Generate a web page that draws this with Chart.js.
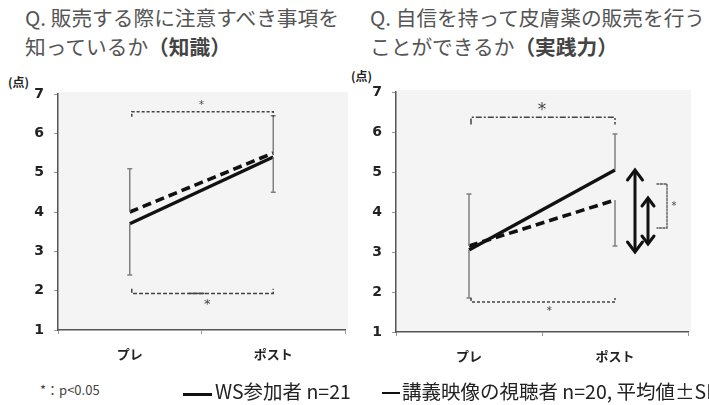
<!DOCTYPE html>
<html>
<head>
<meta charset="utf-8">
<script src="https://cdn.jsdelivr.net/npm/chart.js@4.4.0/dist/chart.umd.min.js"></script>
<style>
body { margin: 0; width: 709px; height: 405px; background: #fff; position: relative; overflow: hidden; font-family: "Noto Sans CJK JP", sans-serif; }
.t { position: absolute; white-space: nowrap; line-height: 1; }
.title { color: #555; font-size: 20.7px; }
.title b { color: #444; }
.unit { font-size: 12px; font-weight: bold; color: #222; }
.leg { color: #222; font-size: 19.5px; }
.bar { position: absolute; background: #111; }
canvas { position: absolute; }
</style>
</head>
<body>
<div class="t title" style="left:25px;top:7px">Q. 販売する際に注意すべき事項を</div>
<div class="t title" style="left:25px;top:36px">知っているか<b>（知識）</b></div>
<div class="t title" style="left:370px;top:7px">Q. 自信を持って皮膚薬の販売を行う</div>
<div class="t title" style="left:370px;top:36px">ことができるか<b>（実践力）</b></div>

<div class="t unit" style="left:8px;top:76px">(点)</div>
<div class="t unit" style="left:351px;top:70px">(点)</div>

<canvas id="chartKnowledge" width="355" height="320" style="left:0;top:60px"></canvas>
<canvas id="chartPractice" width="354" height="320" style="left:355px;top:60px"></canvas>

<div class="t" style="left:40px;top:383px;font-size:13px;color:#444">*：p&lt;0.05</div>
<div class="bar" style="left:183px;top:393px;width:29px;height:3px"></div>
<div class="t leg" style="left:215px;top:381px">WS参加者 n=21</div>
<div class="bar" style="left:382px;top:392px;width:18px;height:2px"></div>
<div class="t leg" style="left:402px;top:381px">講義映像の視聴者 n=20, 平均値±SD</div>

<script>
// 共通
const categories = ['プレ', 'ポスト'];
const yTicks = [1, 2, 3, 4, 5, 6, 7];

// 知識 (左)
const wsKnowledge = [3.7, 5.4];
const lecKnowledge = [4.0, 5.5];
const wsKnowledgeSD = [1.3, 0.9];
const lecKnowledgeSD = [1.1, 0.95];

// 実践力 (右)
const wsPractice = [3.05, 5.05];
const lecPractice = [3.15, 4.3];
const wsPracticeSD = [1.2, 0.9];
const lecPracticeSD = [1.3, 1.15];

// 有意差の括弧 (y は点数)
const bracketsKnowledge = [
    { y: 6.55, end: -0.13, dash: [3, 2], star: { x: 0.5, y: 6.75, size: 10 } },
    { y: 1.93, end: 0.12, dash: [4, 2], mid: true, star: { x: 0.54, y: 1.72, size: 13 } }
];
const bracketsPractice = [
    { y: 6.37, end: -0.18, dash: [6, 2, 2, 2], star: { x: 0.5, y: 6.62, size: 17 } },
    { y: 1.75, end: 0.1, dash: [3, 2], star: { x: 0.55, y: 1.57, size: 11 } }
];

function drawStar(ctx, x, y, size) {
    ctx.save();
    ctx.fillStyle = '#444';
    ctx.font = size + 'px "DejaVu Sans"';
    ctx.textAlign = 'center';
    ctx.textBaseline = 'middle';
    ctx.fillText('*', x, y + size * 0.2);
    ctx.restore();
}

function drawArrow(ctx, x, yA, yB, head) {
    const top = Math.min(yA, yB), bottom = Math.max(yA, yB);
    ctx.beginPath();
    ctx.moveTo(x, top + 2);
    ctx.lineTo(x, bottom - 2);
    ctx.stroke();
    ctx.beginPath();
    ctx.moveTo(x - head * 0.75, top + head);
    ctx.lineTo(x, top);
    ctx.lineTo(x + head * 0.75, top + head);
    ctx.stroke();
    ctx.beginPath();
    ctx.moveTo(x - head * 0.75, bottom - head);
    ctx.lineTo(x, bottom);
    ctx.lineTo(x + head * 0.75, bottom - head);
    ctx.stroke();
}

const panelPlugin = {
    id: 'panel',
    beforeDraw(chart) {
        const a = chart.chartArea;
        const ctx = chart.ctx;
        ctx.save();
        ctx.fillStyle = '#f4f4f4';
        ctx.fillRect(a.left, a.top - 2, a.right - a.left + 3, a.bottom - a.top + 2);
        ctx.restore();
    },
    afterDatasetsDraw(chart, args, opts) {
        const ctx = chart.ctx;
        const x = chart.scales.x;
        const y = chart.scales.y;

        // 誤差棒: 平均が高い方は上へ、低い方は下へ
        ctx.save();
        ctx.strokeStyle = '#808080';
        ctx.lineWidth = 1.5;
        categories.forEach((c, i) => {
            const px = x.getPixelForValue(i);
            const hi = opts.ws[i] > opts.lec[i];
            const ends = [
                opts.ws[i] + (hi ? opts.wsSD[i] : -opts.wsSD[i]),
                opts.lec[i] + (hi ? -opts.lecSD[i] : opts.lecSD[i])
            ];
            [opts.ws[i], opts.lec[i]].forEach((m, k) => {
                const p1 = y.getPixelForValue(m);
                const p2 = y.getPixelForValue(ends[k]);
                ctx.beginPath();
                ctx.moveTo(px, p1);
                ctx.lineTo(px, p2);
                ctx.moveTo(px - 2.5, p2);
                ctx.lineTo(px + 2.5, p2);
                ctx.stroke();
            });
        });
        ctx.restore();

        // 括弧と *
        const x0 = x.getPixelForValue(0) + 2;
        const x1 = x.getPixelForValue(1);
        opts.brackets.forEach(b => {
            const py = y.getPixelForValue(b.y);
            const pe = y.getPixelForValue(b.y + b.end);
            ctx.save();
            ctx.strokeStyle = '#444';
            ctx.lineWidth = 1.5;
            ctx.setLineDash(b.dash);
            ctx.beginPath();
            ctx.moveTo(x0, pe);
            ctx.lineTo(x0, py);
            ctx.lineTo(x1, py);
            ctx.lineTo(x1, pe);
            ctx.stroke();
            if (b.mid) {
                const xm = x.getPixelForValue(0.5);
                ctx.setLineDash([]);
                ctx.beginPath();
                ctx.moveTo(xm - 13, py);
                ctx.lineTo(xm + 3, py);
                ctx.stroke();
            }
            ctx.restore();
            drawStar(ctx, x.getPixelForValue(b.star.x), y.getPixelForValue(b.star.y), b.star.size);
        });

        // 変化量の矢印
        if (opts.arrows) {
            ctx.save();
            ctx.strokeStyle = '#111';
            ctx.lineCap = 'round';
            ctx.lineWidth = 3;
            drawArrow(ctx, x1 + 20, y.getPixelForValue(opts.ws[0] - 0.05), y.getPixelForValue(opts.ws[1]), 10);
            drawArrow(ctx, x1 + 33, y.getPixelForValue(opts.lec[0] + 0.05), y.getPixelForValue(opts.lec[1] + 0.05), 8);
            ctx.lineWidth = 1.3;
            ctx.strokeStyle = '#555';
            ctx.setLineDash([2, 1.5]);
            const yb1 = y.getPixelForValue(4.7), yb2 = y.getPixelForValue(3.6);
            ctx.beginPath();
            ctx.moveTo(x1 + 42, yb1);
            ctx.lineTo(x1 + 52, yb1);
            ctx.lineTo(x1 + 52, yb2);
            ctx.lineTo(x1 + 42, yb2);
            ctx.stroke();
            ctx.restore();
            drawStar(ctx, x1 + 59, y.getPixelForValue(4.2), 10);
        }
    }
};

function makeChart(id, ws, lec, wsSD, lecSD, brackets, arrows, lay) {
    return new Chart(document.getElementById(id), {
        type: 'line',
        data: {
            labels: categories,
            datasets: [
                { label: 'WS参加者', data: ws, borderColor: '#111', borderWidth: 3.2, pointRadius: 0, tension: 0 },
                { label: '講義映像の視聴者', data: lec, borderColor: '#111', borderWidth: 3.6, borderDash: [9, 5], pointRadius: 0, tension: 0 }
            ]
        },
        options: {
            responsive: false,
            animation: false,
            layout: { padding: { top: lay.top, right: lay.right, left: 0, bottom: 0 } },
            plugins: {
                legend: { display: false },
                tooltip: { enabled: false },
                panel: { ws, lec, wsSD, lecSD, brackets, arrows }
            },
            scales: {
                x: {
                    type: 'category',
                    offset: true,
                    grid: { display: true, drawOnChartArea: false, offset: true, tickLength: 4, color: '#999' },
                    border: { display: true, color: '#555', width: 1.5 },
                    ticks: { color: '#222', padding: 12, font: { family: '"Noto Sans CJK JP"', weight: 'bold', size: 13 } },
                    afterFit(scale) { scale.height = lay.xh; }
                },
                y: {
                    min: yTicks[0],
                    max: yTicks[yTicks.length - 1],
                    afterBuildTicks(scale) { scale.ticks = yTicks.map(v => ({ value: v })); },
                    grid: { display: true, drawOnChartArea: false, tickLength: 4, color: '#999' },
                    border: { display: true, color: '#555', width: 1.5 },
                    ticks: { color: '#222', padding: 10, font: { family: '"DejaVu Sans"', weight: 'bold', size: 14 } },
                    afterFit(scale) { scale.width = lay.yw; }
                }
            }
        },
        plugins: [panelPlugin]
    });
}

makeChart('chartKnowledge', wsKnowledge, lecKnowledge, wsKnowledgeSD, lecKnowledgeSD, bracketsKnowledge, false,
    { top: 34, right: 10, xh: 50, yw: 58 });
makeChart('chartPractice', wsPractice, lecPractice, wsPracticeSD, lecPracticeSD, bracketsPractice, true,
    { top: 32, right: 21, xh: 48, yw: 41 });
</script>
</body>
</html>
